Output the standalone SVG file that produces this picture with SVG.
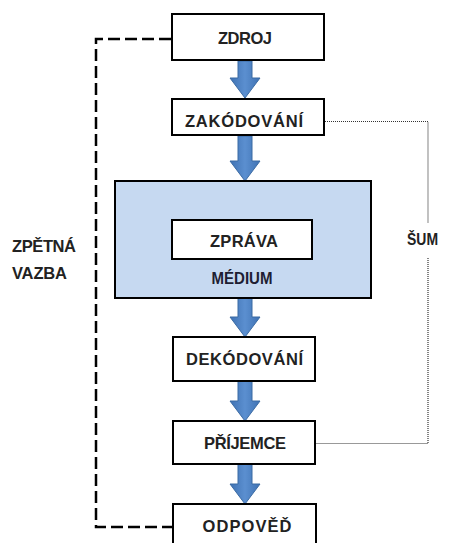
<svg xmlns="http://www.w3.org/2000/svg" width="451" height="543" viewBox="0 0 451 543">
<style>
.box{fill:#fff;stroke:#000;stroke-width:2}
.lbl{font-family:"Liberation Sans",Arial,sans-serif;font-weight:bold;font-size:16.5px;fill:#222}
.arr{fill:url(#ag);stroke:#3a6aa3;stroke-width:1}
.dash{fill:none;stroke:#000;stroke-width:2.5;stroke-dasharray:12 5}
.dot{fill:none;stroke:#333;stroke-width:1.2;stroke-dasharray:1 1}
</style>
<defs>
<linearGradient id="ag" x1="0" y1="0" x2="1" y2="0">
<stop offset="0" stop-color="#3f72b3"/>
<stop offset="0.5" stop-color="#5b8fd0"/>
<stop offset="1" stop-color="#3f72b3"/>
</linearGradient>
</defs>
<rect width="451" height="543" fill="#fff"/>
<g id="connectors">
<path class="dash" d="M171,39 H96 V527 H173"/>
<path class="dot" d="M325,121.5 H428 V223"/>
<path class="dot" d="M428,258 V443.5 H315"/>
<polygon class="arr" points="238,61 252,61 252,78 260,78 245,98 230,78 238,78"/>
<polygon class="arr" points="238,136 252,136 252,161 260,161 245,181 230,161 238,161"/>
<polygon class="arr" points="238,298 252,298 252,317 260,317 245,337 230,317 238,317"/>
<polygon class="arr" points="238,381 252,381 252,401 260,401 245,421 230,401 238,401"/>
<polygon class="arr" points="238,464 252,464 252,484 260,484 245,504 230,484 238,484"/>
</g>
<g id="zdroj">
<rect class="box" x="172" y="14" width="152" height="46"/>
<text class="lbl" x="245" y="44" text-anchor="middle" textLength="54">ZDROJ</text>
</g>
<g id="zakodovani">
<rect class="box" x="172" y="99" width="152" height="36"/>
<text class="lbl" x="244" y="127" text-anchor="middle" textLength="118">ZAKÓDOVÁNÍ</text>
</g>
<g id="medium">
<rect x="115" y="181" width="256" height="117" fill="#c6d9f1" stroke="#000" stroke-width="2"/>
<text class="lbl" x="242" y="284" text-anchor="middle" textLength="61" lengthAdjust="spacingAndGlyphs" style="fill:#1e1e33">MÉDIUM</text>
</g>
<g id="zprava">
<rect class="box" x="172" y="220" width="140" height="39"/>
<text class="lbl" x="244" y="247" text-anchor="middle" textLength="68">ZPRÁVA</text>
</g>
<g id="dekodovani">
<rect class="box" x="173" y="337" width="142" height="44"/>
<text class="lbl" x="244.5" y="365" text-anchor="middle" textLength="117">DEKÓDOVÁNÍ</text>
</g>
<g id="prijemce">
<rect class="box" x="173" y="421" width="142" height="43"/>
<text class="lbl" x="245" y="449" text-anchor="middle" textLength="82">PŘÍJEMCE</text>
</g>
<g id="odpoved">
<rect class="box" x="173" y="504" width="143" height="46"/>
<text class="lbl" x="247" y="532" text-anchor="middle" textLength="89">ODPOVĚĎ</text>
</g>
<g id="sum">
<text class="lbl" x="407" y="245" textLength="31" lengthAdjust="spacingAndGlyphs">ŠUM</text>
</g>
<g id="zpetna-vazba">
<text class="lbl" x="12" y="252" textLength="64">ZPĚTNÁ</text>
<text class="lbl" x="12" y="279" textLength="55">VAZBA</text>
</g>
</svg>
